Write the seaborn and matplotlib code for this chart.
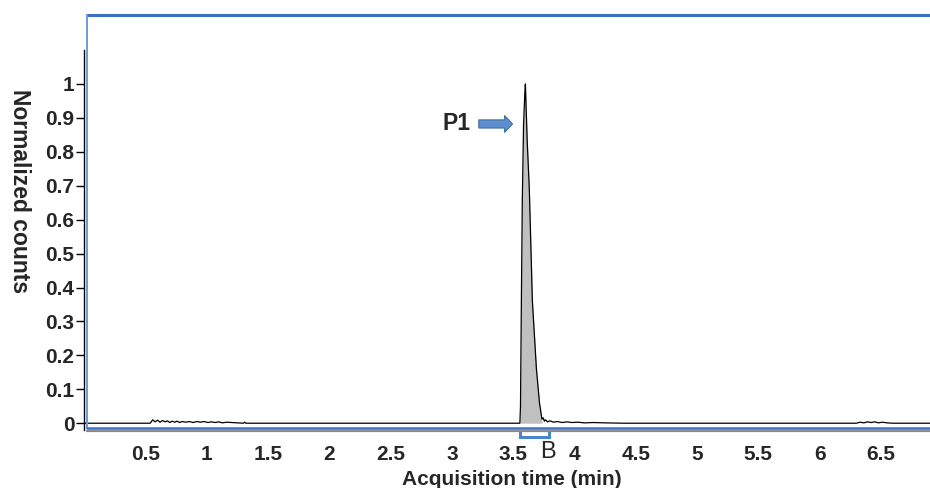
import numpy as np
import pandas as pd
import matplotlib
matplotlib.use("Agg")
import matplotlib.pyplot as plt
from matplotlib.lines import Line2D
from matplotlib.patches import FancyArrow
import seaborn as sns

# ---- data ----
time = [0.00, 0.54, 0.56, 0.58, 0.60, 0.62, 0.64, 0.66, 0.68, 0.70, 0.72, 0.74,
        0.76, 0.78, 0.80, 0.83, 0.86, 0.89, 0.92, 0.95, 0.98, 1.01, 1.04, 1.07,
        1.10, 1.13, 1.16, 1.30, 1.31, 1.32,
        3.555, 3.560, 3.567, 3.575, 3.585, 3.595, 3.600, 3.606, 3.615, 3.632,
        3.657, 3.690, 3.715, 3.735, 3.745, 3.755, 3.765, 3.780, 3.800, 3.830,
        3.860, 3.900, 3.940, 3.980, 4.030, 4.080, 4.150, 4.250, 4.400,
        6.30, 6.33, 6.36, 6.39, 6.42, 6.45, 6.48, 6.51, 6.55, 6.60, 6.90]
counts = [0.0, 0.0, 0.010, 0.004, 0.009, 0.003, 0.008, 0.004, 0.007, 0.002, 0.006, 0.003,
          0.006, 0.002, 0.005, 0.003, 0.005, 0.002, 0.005, 0.003, 0.005, 0.002, 0.004, 0.002,
          0.004, 0.001, 0.003, 0.0, 0.003, 0.0,
          0.0, 0.05, 0.35, 0.66, 0.88, 0.97, 1.0, 0.93, 0.83, 0.69,
          0.36, 0.16, 0.06, 0.012, 0.016, 0.006, 0.010, 0.004, 0.007, 0.003,
          0.005, 0.002, 0.004, 0.002, 0.003, 0.001, 0.002, 0.001, 0.0,
          0.0, 0.003, 0.001, 0.004, 0.002, 0.004, 0.001, 0.003, 0.001, 0.0, 0.0]
yticks = [0, 0.1, 0.2, 0.3, 0.4, 0.5, 0.6, 0.7, 0.8, 0.9, 1]
ytick_labels = ["0", "0.1", "0.2", "0.3", "0.4", "0.5", "0.6", "0.7", "0.8", "0.9", "1"]
xticks = [0.5, 1, 1.5, 2, 2.5, 3, 3.5, 4, 4.5, 5, 5.5, 6, 6.5]
xtick_labels = ["0.5", "1", "1.5", "2", "2.5", "3", "3.5", "4", "4.5", "5", "5.5", "6", "6.5"]
peak_label = "P1"
bracket_label = "B"
peak_start, peak_end = 3.555, 3.735

df = pd.DataFrame({"time": time, "counts": counts})

sns.set_style("white")
plt.rcParams["font.family"] = ["Liberation Sans", "DejaVu Sans"]

W, H = 930, 488
fig = plt.figure(figsize=(W / 100, H / 100), dpi=100)

def fx(x):
    return x / W

def fy(y):
    return 1 - y / H

ax_left, ax_right, ax_top, ax_bottom = 84, 930, 50, 430
ax = fig.add_axes([fx(ax_left), fy(ax_bottom), (ax_right - ax_left) / W, (ax_bottom - ax_top) / H])
ax.set_facecolor("none")

peak = df[(df.time >= peak_start) & (df.time <= peak_end)]
ax.fill_between(peak.time, 0, peak.counts, color="#c0c0c0", lw=0, zorder=1)
sns.lineplot(data=df, x="time", y="counts", ax=ax, color="black", lw=0.9, zorder=2)

ax.set_xlim(0, 6.9)
ax.set_ylim(-0.02, 1.1)

ax.set_yticks(yticks)
ax.set_yticklabels(ytick_labels, fontsize=15, fontweight="bold")
ax.set_xticks(xticks)
ax.set_xticklabels(xtick_labels, fontsize=15, fontweight="bold")
ax.tick_params(axis="y", direction="out", length=6, width=1, color="black", left=True, pad=1)
ax.tick_params(axis="x", length=0, pad=11)

for s in ["top", "right", "bottom"]:
    ax.spines[s].set_visible(False)
ax.spines["left"].set_color("black")
ax.spines["left"].set_linewidth(1)

ax.set_xlabel("Acquisition time (min)", fontsize=15, fontweight="bold", labelpad=3)
ax.xaxis.set_label_coords(0.506, -0.105)
ax.set_ylabel("Normalized counts", fontsize=16.5, fontweight="bold", rotation=270,
              va="center")
ax.yaxis.set_label_coords(-0.076, 0.63)

# P1 arrow and label
ax.add_patch(FancyArrow(3.22, 0.882, 0.21, 0, width=0.024, head_width=0.05,
                        head_length=0.065, length_includes_head=False,
                        facecolor="#5b8fd0", edgecolor="#41719c", lw=0.8, zorder=3))
ax.text(3.04, 0.882, peak_label, fontsize=16.5, fontweight="bold", ha="center", va="center")

# B bracket under the peak
ax.plot([3.56, 3.56, 3.795, 3.795], [-0.022, -0.04, -0.04, -0.022], color="#4a86c8",
        lw=2.2, clip_on=False, solid_joinstyle="miter")
ax.text(3.787, -0.085, bracket_label, fontsize=17, ha="center", va="center",
        transform=ax.transData, clip_on=False)

# decorative blue frame
blue = "#3b6fc4"
fig.add_artist(Line2D([fx(87), fx(930)], [fy(14.5), fy(14.5)], color=blue, lw=2.2, transform=fig.transFigure))
fig.add_artist(Line2D([fx(87), fx(87)], [fy(14.5), fy(428)], color="#6f9ad8", lw=1.4, transform=fig.transFigure))
fig.add_artist(Line2D([fx(87), fx(930)], [fy(427.5), fy(427.5)], color=blue, lw=1.8, transform=fig.transFigure))
fig.add_artist(Line2D([fx(87), fx(930)], [fy(430.5), fy(430.5)], color="#8a8a8a", lw=1.6, transform=fig.transFigure))

fig.savefig("out.png", dpi=100)
